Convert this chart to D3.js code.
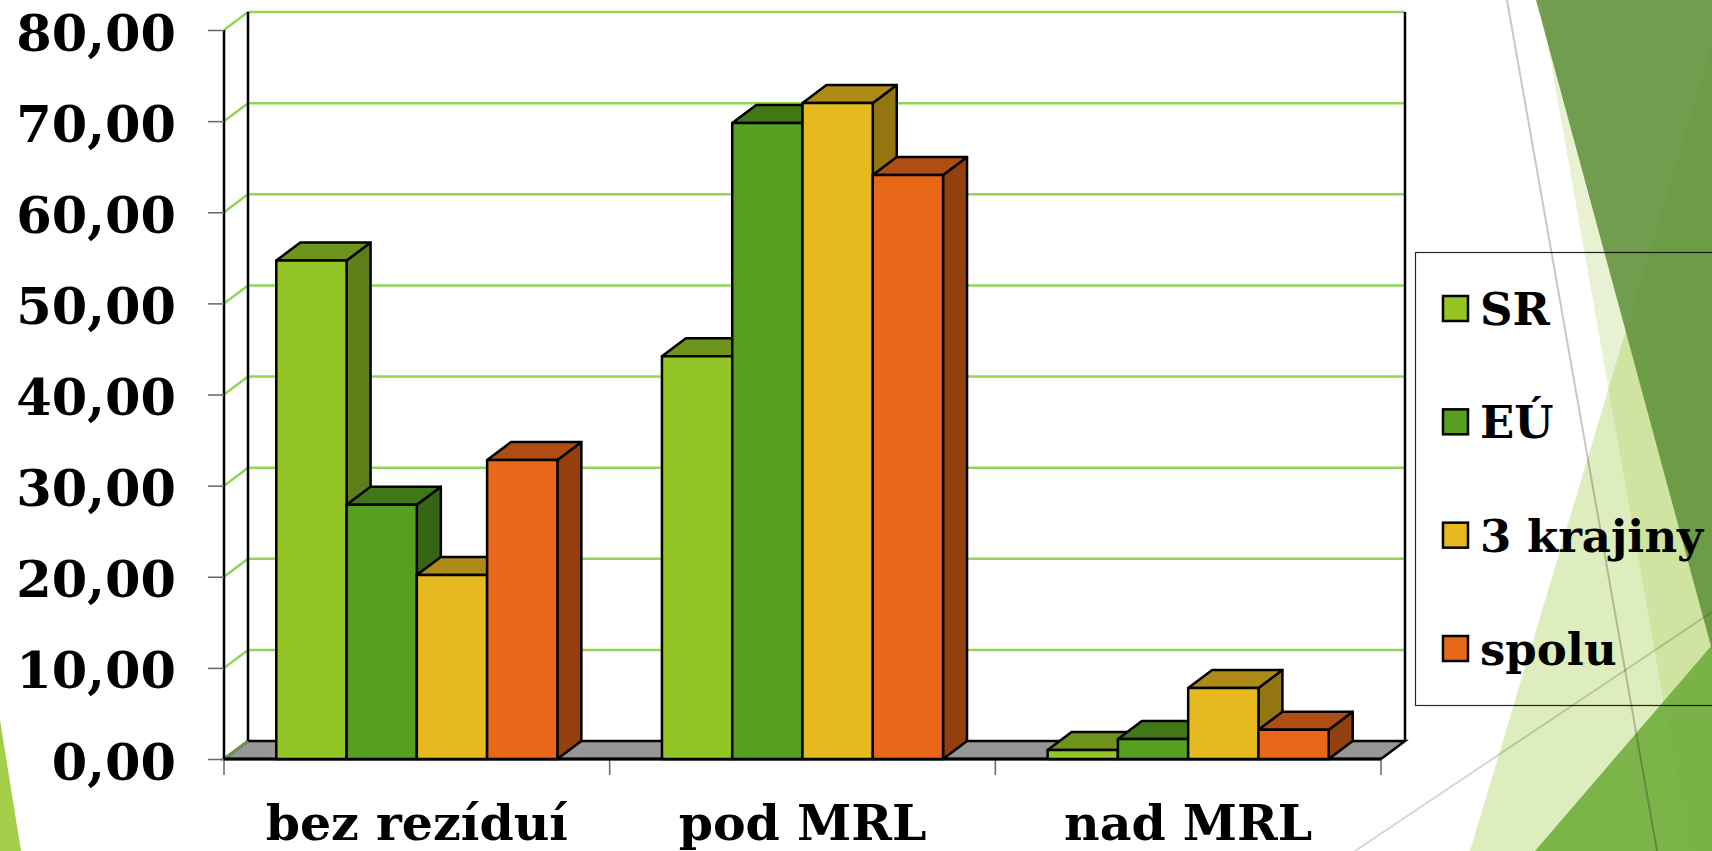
<!DOCTYPE html>
<html>
<head>
<meta charset="utf-8">
<script src="https://cdn.jsdelivr.net/npm/d3@7"></script>
<style>
  html, body { margin: 0; padding: 0; background: #fff; overflow: hidden; }
  svg { display: block; }
  text { font-family: "DejaVu Serif", serif; font-weight: bold; fill: #000; }
</style>
</head>
<body>
<div id="chart-area"></div>
<script>
// Data
var categories = ["bez rezíduí", "pod MRL", "nad MRL"];
var seriesNames = ["SR", "EÚ", "3 krajiny", "spolu"];
var valuesSR = [54.7, 44.2, 1.0];
var valuesEU = [27.9, 69.8, 2.2];
var valuesKrajiny = [20.2, 72.0, 7.8];
var valuesSpolu = [32.8, 64.1, 3.2];
var yTicks = [0, 10, 20, 30, 40, 50, 60, 70, 80];

var seriesValues = [valuesSR, valuesEU, valuesKrajiny, valuesSpolu];
var frontColors = ["#93c525", "#56a020", "#e6b91e", "#e96719"];
var topColors = ["#6e941c", "#407818", "#ad8b16", "#af4d13"];
var sideColors = ["#5e7f18", "#366614", "#937610", "#943f0e"];

// SVG drawing area
var width = 1712, height = 851;
var svg = d3.select("#chart-area").append("svg")
    .attr("width", width)
    .attr("height", height);

// Slide background, drawn behind the chart
var bg = svg.append("g");
function shape(points, fill, opacity) {
  bg.append("polygon")
      .attr("points", points.join(" "))
      .attr("fill", fill)
      .attr("opacity", opacity);
}
shape([[0, 720], [21, 851], [0, 851]], "#a2ce4a", 1);
shape([[1712, 43], [1470, 851], [1712, 851]], "#a4cd4d", 0.37);
shape([[1540, 0], [1690, 851], [1712, 851], [1712, 0]], "#a4cd4d", 0.25);
shape([[1712, 645], [1535, 851], [1712, 851]], "#72af3f", 0.92);
shape([[1536, 0], [1712, 650], [1712, 0]], "#5c8f37", 0.85);

bg.append("line").attr("x1", 1507).attr("y1", 0).attr("x2", 1657).attr("y2", 851)
    .attr("stroke", "#000").attr("stroke-opacity", 0.22).attr("stroke-width", 2);
bg.append("line").attr("x1", 1355).attr("y1", 851).attr("x2", 1712).attr("y2", 612)
    .attr("stroke", "#000").attr("stroke-opacity", 0.16).attr("stroke-width", 2);

// Scales
var depthX = 24, depthY = 18;
var x = d3.scaleBand()
    .domain(categories)
    .range([224, 1381]);
var xInner = d3.scaleBand()
    .domain(seriesNames)
    .range([52.3, x.bandwidth() - 52.3]);
var y = d3.scaleLinear()
    .domain([0, 80])
    .range([759, 30]);

// Floor
svg.append("polygon")
    .attr("points", [[224, y(0)], [224 + depthX, y(0) - depthY], [1381 + depthX, y(0) - depthY], [1381, y(0)]].join(" "))
    .attr("fill", "#969696")
    .attr("stroke", "#000")
    .attr("stroke-width", 2.5);

// Gridlines run along the side wall and then the back wall
svg.append("g").selectAll("polyline")
    .data(yTicks.slice(1))
    .enter().append("polyline")
    .attr("points", function(d) {
      return [[224, y(d)], [224 + depthX, y(d) - depthY], [1381 + depthX, y(d) - depthY]].join(" ");
    })
    .attr("fill", "none")
    .attr("stroke", "#92d656")
    .attr("stroke-width", 2.5);
svg.append("polyline")
    .attr("points", [[224, y(0)], [224 + depthX, y(0) - depthY]].join(" "))
    .attr("stroke", "#6f9f45")
    .attr("stroke-width", 2.5);

// Walls
svg.append("line").attr("x1", 224).attr("x2", 224).attr("y1", y(80)).attr("y2", y(0))
    .attr("stroke", "#000").attr("stroke-width", 2.5);
svg.append("line").attr("x1", 224 + depthX).attr("x2", 224 + depthX).attr("y1", y(80) - depthY).attr("y2", y(0) - depthY)
    .attr("stroke", "#000").attr("stroke-width", 2.5);
svg.append("line").attr("x1", 1381 + depthX).attr("x2", 1381 + depthX).attr("y1", y(80) - depthY).attr("y2", y(0) - depthY)
    .attr("stroke", "#000").attr("stroke-width", 2.5);

// Axes
var yAxis = d3.axisLeft(y)
    .tickValues(yTicks)
    .tickSize(16)
    .tickPadding(32)
    .tickFormat(function(d) { return d3.format(".2f")(d).replace(".", ","); });
var yAxisGroup = svg.append("g")
    .attr("transform", "translate(224,0)")
    .call(yAxis);
yAxisGroup.select(".domain").remove();
yAxisGroup.selectAll("line").attr("stroke", "#666").attr("stroke-width", 1.5);
yAxisGroup.selectAll("text")
    .attr("font-size", 51)
    .attr("dy", 20);

var xAxisGroup = svg.append("g")
    .attr("transform", "translate(0," + y(0) + ")");
xAxisGroup.selectAll(".tick")
    .data([0, 1, 2, 3])
    .enter().append("line")
    .attr("class", "tick")
    .attr("x1", function(d) { return x.range()[0] + d * x.step(); })
    .attr("x2", function(d) { return x.range()[0] + d * x.step(); })
    .attr("y1", 0)
    .attr("y2", 16)
    .attr("stroke", "#666")
    .attr("stroke-width", 1.5);
xAxisGroup.selectAll(".label")
    .data(categories)
    .enter().append("text")
    .attr("class", "label")
    .attr("x", function(d) { return x(d) + x.bandwidth() / 2; })
    .attr("y", 81)
    .attr("text-anchor", "middle")
    .attr("font-size", 49)
    .text(function(d) { return d; });

// Baseline goes over the floor edge
svg.append("line").attr("x1", 224).attr("x2", 1381).attr("y1", y(0)).attr("y2", y(0))
    .attr("stroke", "#000").attr("stroke-width", 3);

// Bars, left to right so later bars cover the side of earlier ones
var bars = svg.append("g");
categories.forEach(function(cat, c) {
  seriesNames.forEach(function(name, s) {
    var x0 = x(cat) + xInner(name),
        x1 = x0 + xInner.bandwidth(),
        y0 = y(0),
        y1 = y(seriesValues[s][c]);
    var bar = bars.append("g")
        .attr("stroke", "#000")
        .attr("stroke-width", 2.5)
        .attr("stroke-linejoin", "round");
    bar.append("polygon")
        .attr("points", [[x1, y0], [x1 + depthX, y0 - depthY], [x1 + depthX, y1 - depthY], [x1, y1]].join(" "))
        .attr("fill", sideColors[s]);
    bar.append("polygon")
        .attr("points", [[x0, y1], [x0 + depthX, y1 - depthY], [x1 + depthX, y1 - depthY], [x1, y1]].join(" "))
        .attr("fill", topColors[s]);
    bar.append("rect")
        .attr("x", x0)
        .attr("y", y1)
        .attr("width", x1 - x0)
        .attr("height", y0 - y1)
        .attr("fill", frontColors[s]);
  });
});

// Legend, its box runs off the right edge
svg.append("rect")
    .attr("x", 1415.5)
    .attr("y", 252.5)
    .attr("width", 320)
    .attr("height", 453)
    .attr("fill", "none")
    .attr("stroke", "#000")
    .attr("stroke-opacity", 0.85)
    .attr("stroke-width", 1.2);

var legendY = d3.scalePoint()
    .domain(seriesNames)
    .range([309, 649]);
var legend = svg.append("g").selectAll("g")
    .data(seriesNames)
    .enter().append("g")
    .attr("transform", function(d) { return "translate(1443," + legendY(d) + ")"; });
legend.append("rect")
    .attr("x", 0)
    .attr("y", -13)
    .attr("width", 25)
    .attr("height", 25)
    .attr("fill", function(d, i) { return frontColors[i]; })
    .attr("stroke", "#000")
    .attr("stroke-width", 2.5);
legend.append("text")
    .attr("x", 37)
    .attr("y", 16)
    .attr("font-size", 45)
    .text(function(d) { return d; });
</script>
</body>
</html>
